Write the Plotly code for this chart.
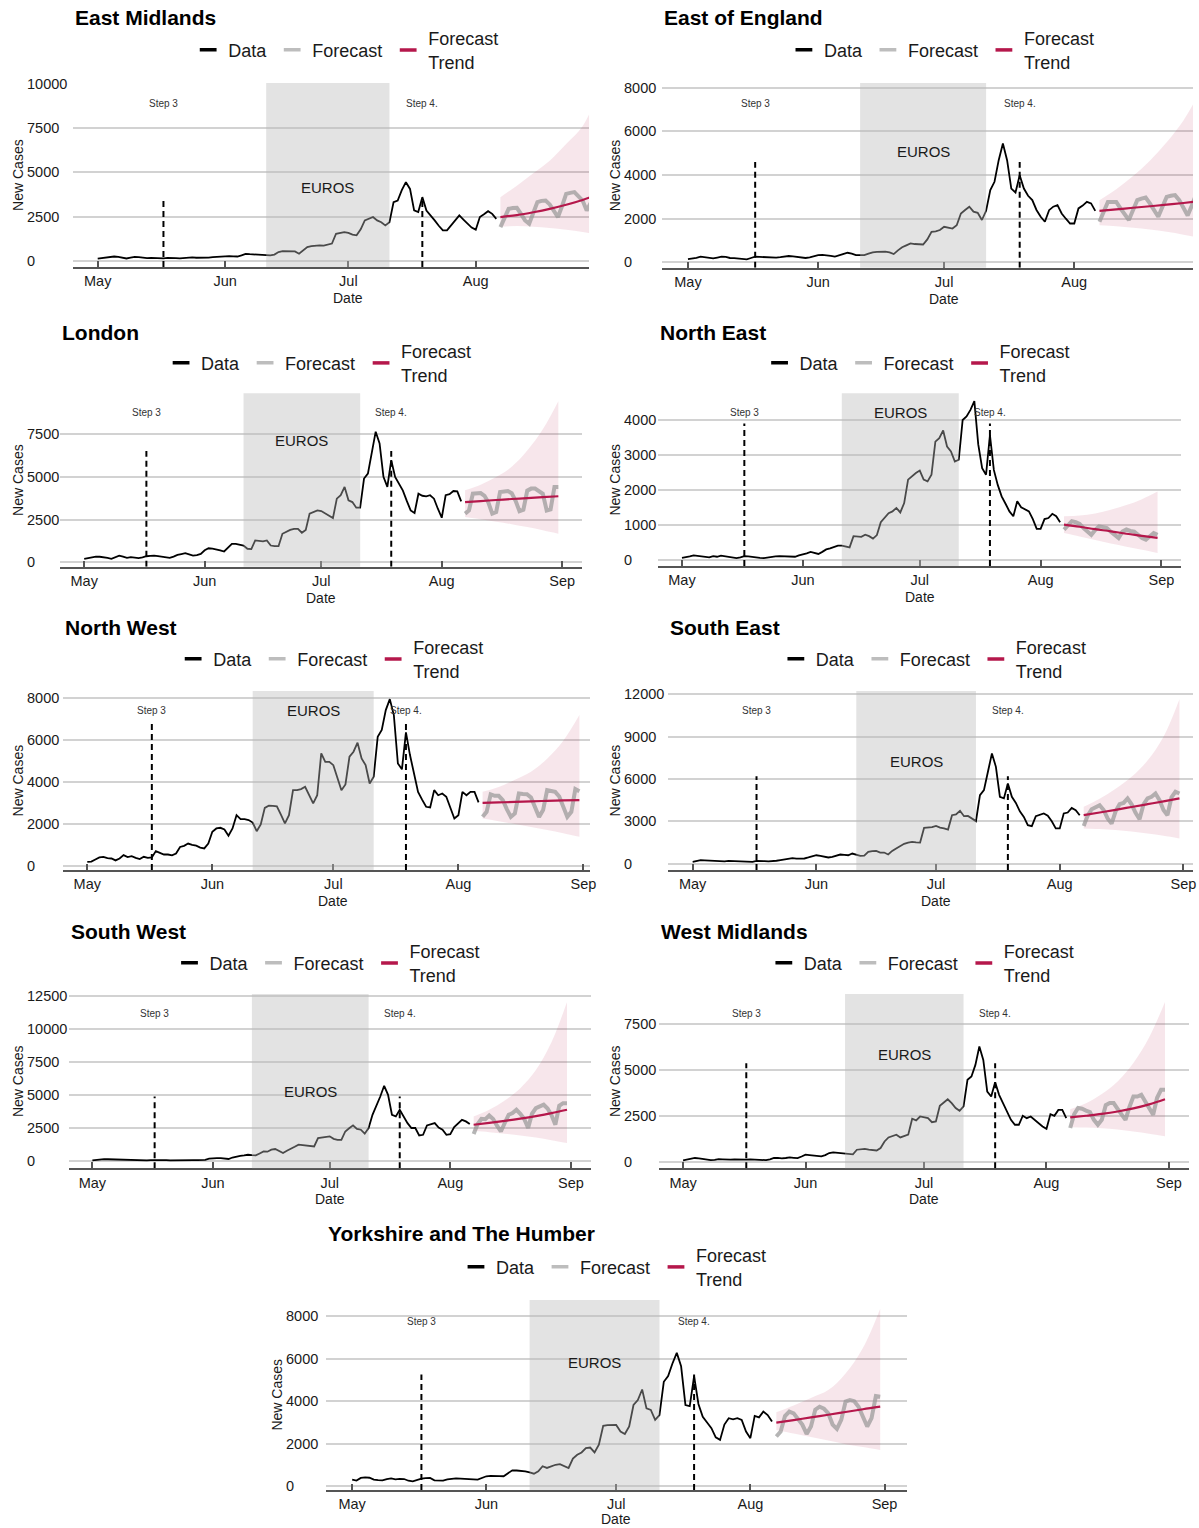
import pandas as pd
import plotly.graph_objects as go

W, H = 1199, 1528
FONT = "Liberation Sans, Arial, sans-serif"
TEXT = "#1a1a1a"
AXIS_COLOR = "#555555"
GRID = "#d2d2d2"
FC_COLOR = "rgba(150,150,150,0.7)"
FC_KEY = "#bdbdbd"
TREND_COLOR = "#b5174b"
RIBBON = "rgba(183,28,74,0.11)"
EUROS_FILL = "rgba(185,185,185,0.4)"

START = pd.Timestamp("2021-05-01")
STEP3_DATE = pd.Timestamp("2021-05-17")
STEP4_DATE = pd.Timestamp("2021-07-19")
EUROS_START = pd.Timestamp("2021-06-11")
EUROS_END = pd.Timestamp("2021-07-11")

MONTH_TICKS = ["2021-05-01", "2021-06-01", "2021-07-01", "2021-08-01", "2021-09-01"]
MONTH_LABELS = ["May", "Jun", "Jul", "Aug", "Sep"]

# ---- daily new cases, 1 May - 6 Aug -------------------------------------
em_cases = [150, 190, 230, 260, 270, 250, 190, 160, 210, 250,
            230, 190, 180, 190, 170, 160, 170, 190, 200, 180,
            170, 190, 210, 220, 200, 190, 200, 210, 240, 260,
            270, 280, 290, 280, 270, 330, 420, 400, 390, 380,
            350, 340, 330, 380, 520, 570, 580, 560, 560, 430,
            620, 800, 850, 880, 900, 880, 950, 1000, 1550, 1580,
            1640, 1600, 1500, 1460, 1800, 2300, 2400, 2490, 2300, 2200,
            2020, 2200, 3330, 3420, 4000, 4450, 4070, 2860, 2770, 3610,
            2860, 2600, 2300, 2000, 1740, 1740, 2000, 2300, 2580, 2350,
            2110, 1900, 1780, 2490, 2650, 2820, 2670, 2390]
ee_cases = [150, 170, 210, 260, 240, 200, 180, 220, 260, 250,
            200, 190, 170, 150, 140, 200, 260, 250, 240, 260,
            230, 220, 240, 270, 290, 270, 240, 220, 200, 230,
            280, 330, 340, 330, 300, 260, 320, 380, 440, 400,
            335, 330, 330, 400, 460, 480, 490, 490, 460, 380,
            550, 690, 780, 870, 840, 830, 820, 1050, 1400, 1420,
            1480, 1630, 1590, 1550, 1700, 2240, 2400, 2550, 2320, 2270,
            1940, 2360, 3310, 3690, 4680, 5440, 4680, 3380, 3200, 3990,
            3380, 3050, 2850, 2400, 2090, 1860, 2390, 2550, 2620, 2240,
            2000, 1780, 1780, 2470, 2600, 2770, 2700, 2360]
ld_cases = [200, 250, 300, 330, 320, 300, 250, 200, 300, 390,
            330, 260, 300, 280, 240, 280, 350, 370, 390, 360,
            330, 290, 260, 330, 430, 480, 530, 460, 390, 420,
            490, 700, 820, 800, 770, 700, 630, 850, 1080, 1080,
            1040, 980, 790, 770, 1280, 1250, 1220, 1280, 980, 940,
            940, 1670, 1800, 1900, 1960, 1960, 1730, 1900, 2850, 2950,
            3040, 3000, 2850, 2700, 2590, 3730, 3930, 4420, 3630, 3530,
            3200, 3200, 4910, 5200, 6380, 7660, 6970, 5010, 4420, 5990,
            5010, 4610, 4200, 3600, 3040, 2890, 4020, 3900, 3870, 3930,
            3730, 3140, 2610, 3930, 3990, 4180, 4160, 3570]
ne_cases = [50, 60, 90, 120, 100, 80, 70, 60, 100, 80,
            110, 90, 70, 60, 40, 60, 100, 90, 70, 60,
            50, 40, 60, 90, 90, 100, 100, 90, 80, 80,
            120, 140, 180, 220, 190, 160, 220, 290, 320, 360,
            400, 400, 380, 350, 670, 660, 650, 710, 670, 600,
            700, 1070, 1190, 1330, 1380, 1480, 1350, 1620, 2290, 2400,
            2480, 2550, 2290, 2240, 2430, 3380, 3480, 3700, 3240, 3100,
            2810, 2860, 4000, 4100, 4290, 4540, 3300, 2620, 2430, 3570,
            2570, 2140, 1810, 1600, 1380, 1240, 1670, 1500, 1450, 1380,
            1160, 880, 880, 1160, 1190, 1310, 1240, 1070]
nw_cases = [190, 200, 300, 400, 430, 370, 350, 260, 350, 510,
            420, 460, 380, 320, 430, 380, 400, 700, 620, 540,
            540, 500, 590, 900, 950, 1060, 1000, 960, 870, 830,
            1060, 1620, 1780, 1810, 1730, 1430, 1780, 2410, 2220, 2220,
            2180, 2060, 1650, 1970, 2760, 2860, 2850, 2830, 2440, 2020,
            2410, 3600, 3600, 3650, 3760, 3360, 2970, 3360, 5350, 4950,
            4950, 4790, 4240, 3600, 3870, 5190, 5430, 5860, 5110, 4790,
            3920, 4240, 6140, 6460, 7410, 7930, 7170, 4870, 4590, 6350,
            5270, 4320, 3520, 3150, 2810, 2780, 3600, 3360, 3440, 3290,
            2800, 2250, 2410, 3520, 3360, 3520, 3520, 3020]
se_cases = [120, 180, 240, 230, 210, 190, 180, 120, 150, 190,
            180, 160, 170, 160, 140, 120, 190, 160, 170, 160,
            170, 200, 250, 310, 350, 380, 350, 330, 360, 430,
            500, 590, 550, 500, 430, 480, 560, 640, 620, 590,
            710, 650, 540, 560, 830, 880, 900, 780, 780, 640,
            900, 1070, 1250, 1400, 1490, 1540, 1500, 1490, 2530, 2550,
            2580, 2670, 2550, 2490, 2410, 3430, 3480, 3740, 3360, 3380,
            3200, 3010, 4850, 5210, 6510, 7810, 6860, 4730, 4620, 5680,
            4730, 4300, 3700, 3310, 2720, 2650, 3360, 3450, 3550, 3400,
            3000, 2490, 2490, 3550, 3620, 3950, 3790, 3430]
sw_cases = [75, 120, 180, 170, 160, 150, 130, 100, 90, 110,
            125, 110, 100, 90, 80, 90, 100, 110, 100, 90,
            80, 90, 100, 110, 120, 110, 100, 90, 100, 120,
            200, 250, 250, 250, 240, 180, 290, 380, 420, 450,
            500, 470, 450, 600, 750, 730, 880, 930, 800, 630,
            800, 930, 1100, 1260, 1230, 1210, 1130, 1130, 1760, 1810,
            1850, 1890, 1700, 1630, 1630, 2260, 2500, 2720, 2460, 2390,
            2090, 2520, 3520, 4150, 4900, 5710, 5030, 3520, 3400, 3900,
            3400, 2890, 2520, 2520, 1960, 2010, 2720, 2800, 2890, 2560,
            2400, 2010, 2060, 2600, 2890, 3140, 3020, 2820]
wm_cases = [90, 130, 180, 220, 200, 170, 140, 100, 120, 160,
            150, 130, 130, 140, 130, 120, 130, 150, 140, 130,
            110, 100, 150, 220, 230, 200, 220, 250, 230, 210,
            300, 400, 380, 360, 330, 310, 380, 490, 530, 510,
            470, 450, 430, 420, 670, 700, 720, 670, 650, 630,
            760, 1120, 1340, 1420, 1490, 1340, 1420, 1490, 2360, 2270,
            2480, 2430, 2390, 2170, 2210, 3060, 3250, 3420, 3210, 2940,
            2790, 3030, 4480, 4660, 5290, 6290, 5560, 3840, 3570, 4350,
            3660, 3210, 2750, 2300, 2030, 2030, 2520, 2390, 2480, 2300,
            2100, 1940, 1810, 2610, 2520, 2840, 2840, 2390]
yh_cases = [310, 265, 390, 420, 400, 310, 290, 280, 340, 370,
            320, 350, 340, 260, 230, 300, 360, 380, 390, 280,
            270, 265, 320, 360, 370, 360, 340, 310, 320, 310,
            400, 470, 490, 500, 480, 470, 600, 750, 740, 730,
            700, 650, 590, 700, 940, 860, 950, 1010, 1040, 950,
            860, 1300, 1480, 1590, 1790, 1820, 1590, 1950, 2840, 2870,
            2880, 2880, 2570, 2460, 2810, 3820, 4050, 4550, 3660, 3590,
            3120, 3350, 4910, 5180, 5770, 6270, 5640, 3820, 3770, 5180,
            3870, 3270, 3000, 2730, 2300, 2180, 2900, 3200, 3150, 3200,
            3120, 2570, 2260, 3310, 3240, 3510, 3350, 3040]

# ---- daily forecast, 7 Aug - 31 Aug --------------------------------------
em_forecast = [1925, 2450, 2950, 3000, 3010, 2670, 2300, 2110, 2700, 3330, 3400, 3420, 3200,
               2800, 2490, 3100, 3790, 3850, 3890, 3650, 3420, 2860, 3300, 4000, 4100]
ee_forecast = [1860, 2300, 2770, 2770, 2770, 2470, 2200, 1940, 2400, 2850, 2920, 2970, 2700,
               2400, 2090, 2550, 3000, 3050, 3080, 2850, 2500, 2150, 2600, 3100, 3150]
ld_forecast = [2850, 3040, 4020, 4060, 4060, 3900, 3500, 2850, 2940, 4120, 4180, 4180, 4050,
               3600, 3000, 3080, 4200, 4320, 4320, 4200, 4020, 3040, 3100, 4420, 4420]
ne_forecast = [860, 1000, 1100, 1070, 1020, 900, 800, 710, 850, 950, 930, 900, 800,
               700, 620, 800, 860, 820, 800, 710, 620, 570, 680, 760, 710]
nw_forecast = [2330, 2570, 3400, 3330, 3330, 3130, 2700, 2330, 2490, 3440, 3420, 3410, 3250,
               2800, 2330, 2650, 3600, 3560, 3520, 3300, 2800, 2330, 2570, 3650, 3550]
se_forecast = [2670, 3400, 3850, 4000, 4140, 3800, 3200, 2840, 3700, 4210, 4300, 4620, 4200,
               3600, 3150, 4200, 4620, 4730, 4970, 4500, 3800, 3430, 4700, 5090, 4970]
sw_forecast = [2060, 2800, 3220, 3190, 3470, 3200, 2700, 2260, 2900, 3520, 3650, 3900, 3600,
               3200, 2520, 3600, 4020, 4150, 4280, 4000, 3500, 2770, 4200, 4400, 4400]
wm_forecast = [1850, 2600, 2940, 2900, 2800, 2720, 2300, 2030, 2300, 3100, 3210, 3210, 2900,
               2600, 2300, 3000, 3570, 3570, 3660, 3300, 2900, 2570, 3500, 3930, 3930]
yh_forecast = [2340, 2570, 3300, 3510, 3430, 3200, 2900, 2460, 2810, 3600, 3740, 3650, 3430,
               2900, 2700, 3120, 3980, 4050, 4000, 3740, 3300, 2810, 3200, 4240, 4210]

# ---- trend and interval, every 4th forecast day (7 Aug ... 31 Aug) -------
em_trend = [2490, 2600, 2760, 2950, 3180, 3450, 3780]
em_lower = [1950, 1980, 1950, 1880, 1780, 1650, 1500]
em_upper = [3610, 4250, 4950, 5660, 6600, 7600, 9560]
ee_trend = [2360, 2430, 2500, 2570, 2640, 2720, 2800]
ee_lower = [1700, 1650, 1580, 1500, 1400, 1270, 1120]
ee_upper = [2850, 3350, 3950, 4650, 5500, 6500, 7830]
ld_trend = [3530, 3590, 3650, 3710, 3760, 3820, 3870]
ld_lower = [2650, 2520, 2380, 2230, 2060, 1870, 1670]
ld_upper = [4220, 4550, 5000, 5600, 6550, 7800, 9450]
ne_trend = [1000, 940, 870, 810, 740, 680, 620]
ne_lower = [760, 660, 560, 460, 370, 280, 190]
ne_upper = [1240, 1260, 1320, 1430, 1560, 1730, 1950]
nw_trend = [3000, 3020, 3040, 3070, 3090, 3110, 3130]
nw_lower = [2250, 2120, 1990, 1850, 1700, 1550, 1380]
nw_upper = [3520, 3750, 4100, 4480, 5100, 5950, 7170]
se_trend = [3430, 3620, 3810, 4010, 4210, 4410, 4620]
se_lower = [2490, 2450, 2380, 2270, 2130, 1970, 1780]
se_upper = [4020, 4600, 5300, 6150, 7300, 9000, 11660]
sw_trend = [2770, 2910, 3060, 3230, 3420, 3640, 3900]
sw_lower = [2310, 2210, 2090, 1950, 1800, 1600, 1380]
sw_upper = [3400, 3900, 4600, 5530, 6900, 9000, 12050]
wm_trend = [2430, 2520, 2620, 2750, 2920, 3140, 3420]
wm_lower = [1900, 1880, 1840, 1770, 1660, 1540, 1400]
wm_upper = [2880, 3200, 3700, 4390, 5400, 6800, 8720]
yh_trend = [2990, 3110, 3240, 3360, 3490, 3620, 3740]
yh_lower = [2650, 2480, 2310, 2150, 1980, 1840, 1710]
yh_upper = [3480, 3800, 4150, 4520, 5300, 6500, 8350]

region_names = ["East Midlands", "East of England", "London", "North East", "North West",
                "South East", "South West", "West Midlands", "Yorkshire and The Humber"]
region_cases = [em_cases, ee_cases, ld_cases, ne_cases, nw_cases, se_cases, sw_cases, wm_cases, yh_cases]
region_forecast = [em_forecast, ee_forecast, ld_forecast, ne_forecast, nw_forecast,
                   se_forecast, sw_forecast, wm_forecast, yh_forecast]
region_trend = [em_trend, ee_trend, ld_trend, ne_trend, nw_trend, se_trend, sw_trend, wm_trend, yh_trend]
region_lower = [em_lower, ee_lower, ld_lower, ne_lower, nw_lower, se_lower, sw_lower, wm_lower, yh_lower]
region_upper = [em_upper, ee_upper, ld_upper, ne_upper, nw_upper, se_upper, sw_upper, wm_upper, yh_upper]
step_line_top = [3420, 4600, 6520, 3900, 6780, 6200, 4900, 5380, 5250]
y_ticks = [[0, 2500, 5000, 7500, 10000], [0, 2000, 4000, 6000, 8000], [0, 2500, 5000, 7500],
           [0, 1000, 2000, 3000, 4000], [0, 2000, 4000, 6000, 8000], [0, 3000, 6000, 9000, 12000],
           [0, 2500, 5000, 7500, 10000, 12500], [0, 2500, 5000, 7500], [0, 2000, 4000, 6000, 8000]]

# Panel boxes in pixels:
# plot left, px per day, plot top, plot bottom, right clip, cell left, title y, legend y
PANELS = [
    (73.0, 4.13, 83.0, 267.0, 592, 0, 17, 50),
    (665.7, 4.22, 83.0, 267.7, 1199, 600, 17, 50),
    (60.8, 3.906, 393.3, 566.7, None, 0, 333, 363),
    (661.5, 3.918, 393.3, 566.0, None, 600, 333, 363),
    (63.0, 4.054, 691.0, 870.0, 593, 0, 628, 659),
    (671.7, 4.01, 691.0, 870.0, 1199, 600, 628, 659),
    (69.0, 3.91, 994.0, 1168.3, None, 0, 932, 963),
    (662.3, 3.97, 994.0, 1168.3, None, 600, 932, 963),
    (327.4, 4.35, 1300.0, 1490.0, None, 260, 1233, 1267),
]
LEGEND_SPLIT = 40  # px right of the panel centre where the trend key starts

obs_dates = pd.date_range(START, periods=len(em_cases), freq="D")
fc_dates = pd.date_range(obs_dates[-1] + pd.Timedelta(days=1), periods=len(em_forecast), freq="D")
band_dates = fc_dates[::4]
span_days = (fc_dates[-1] - START).days
x_pad = 0.05 * span_days


def px_x(x):
    return x / W


def px_y(y):
    return 1 - y / H


def day_str(d):
    return (START + pd.Timedelta(days=d)).strftime("%Y-%m-%d %H:%M:%S")


def legend_key(label, color, legend_id, xa, ya):
    return go.Scatter(x=[None], y=[None], mode="markers", name=label, legend=legend_id,
                      xaxis=xa, yaxis=ya, showlegend=True, hoverinfo="skip",
                      marker=dict(symbol="line-ew", size=12, color=color,
                                  line=dict(color=color, width=3.5)))


fig = go.Figure()
layout = {}
annotations = []
shapes = []

for i, name in enumerate(region_names):
    cases = region_cases[i]
    fc = region_forecast[i]
    trend = region_trend[i]
    lower = region_lower[i]
    upper = region_upper[i]
    left, kday, top, bottom, clip, cell, title_y, legend_y = PANELS[i]
    n = "" if i == 0 else str(i + 1)
    xa, ya = "x" + n, "y" + n
    lg_main = "legend" if i == 0 else "legend" + str(2 * i + 1)
    lg_trend = "legend" + str(2 * i + 2)

    full_right = left + (span_days + 2 * x_pad) * kday
    right = min(full_right, clip) if clip else full_right
    x_lo = -x_pad
    x_hi = -x_pad + (right - left) / kday

    vmax = max(max(cases), max(fc), max(upper))
    vmin = min(min(cases), min(fc), min(lower))
    y_lo = vmin - 0.05 * (vmax - vmin)
    y_hi = vmax + 0.05 * (vmax - vmin)

    common = dict(xaxis=xa, yaxis=ya, showlegend=False, hoverinfo="skip")
    fig.add_trace(go.Scatter(x=band_dates, y=lower, mode="lines",
                             line=dict(width=0, shape="spline"), **common))
    fig.add_trace(go.Scatter(x=band_dates, y=upper, mode="lines", fill="tonexty", fillcolor=RIBBON,
                             line=dict(width=0, shape="spline"), **common))
    fig.add_trace(go.Scatter(x=fc_dates, y=fc, mode="lines",
                             line=dict(color=FC_COLOR, width=4), **common))
    fig.add_trace(go.Scatter(x=band_dates, y=trend, mode="lines",
                             line=dict(color=TREND_COLOR, width=2.2, shape="spline"), **common))
    fig.add_trace(go.Scatter(x=obs_dates, y=cases, mode="lines",
                             line=dict(color="black", width=1.8), **common))

    # legend keys: single-line entries and the two-line trend entry sit side by side
    fig.add_trace(legend_key("Data", "black", lg_main, xa, ya))
    fig.add_trace(legend_key("Forecast", FC_KEY, lg_main, xa, ya))
    fig.add_trace(legend_key("Forecast<br>Trend", TREND_COLOR, lg_trend, xa, ya))

    centre = (left + full_right) / 2
    legend_style = dict(orientation="h", y=px_y(legend_y), yanchor="middle",
                        bgcolor="rgba(0,0,0,0)", itemwidth=30, traceorder="normal",
                        font=dict(size=18, color=TEXT, family=FONT),
                        itemclick=False, itemdoubleclick=False)
    layout[lg_main] = dict(x=px_x(centre + LEGEND_SPLIT), xanchor="right", **legend_style)
    layout[lg_trend] = dict(x=px_x(centre + LEGEND_SPLIT), xanchor="left", **legend_style)

    layout["xaxis" + n] = dict(domain=[px_x(left), px_x(right)], anchor=ya, type="date",
                               range=[day_str(x_lo), day_str(x_hi)],
                               tickvals=MONTH_TICKS, ticktext=MONTH_LABELS,
                               showgrid=False, zeroline=False, showline=True,
                               linecolor=AXIS_COLOR, linewidth=2, ticks="inside", ticklen=6,
                               tickwidth=1.5, tickcolor=AXIS_COLOR, ticklabelstandoff=0,
                               tickfont=dict(size=14.5, color=TEXT, family=FONT), fixedrange=True)
    layout["yaxis" + n] = dict(domain=[px_y(bottom), px_y(top)], anchor=xa, range=[y_lo, y_hi],
                               tickvals=y_ticks[i], showticklabels=False, showgrid=True,
                               gridcolor=GRID, gridwidth=1.5, zeroline=False, showline=False,
                               ticks="", fixedrange=True)

    # EUROS window and roadmap steps
    shapes.append(dict(type="rect", xref=xa, yref=ya + " domain", x0=EUROS_START, x1=EUROS_END,
                       y0=0, y1=1, fillcolor=EUROS_FILL, line=dict(width=0), layer="above"))
    for step_date in (STEP3_DATE, STEP4_DATE):
        shapes.append(dict(type="line", xref=xa, yref=ya, x0=step_date, x1=step_date,
                           y0=y_lo, y1=step_line_top[i], layer="above",
                           line=dict(color="black", width=2, dash="6px,4px")))

    euros_mid = EUROS_START + (EUROS_END - EUROS_START) / 2
    annotations.append(dict(x=euros_mid, y=0.93 * max(cases), xref=xa, yref=ya, text="EUROS",
                            showarrow=False, font=dict(size=15, color=TEXT, family=FONT)))
    for step_date, label in ((STEP3_DATE, "Step 3"), (STEP4_DATE, "Step 4.")):
        annotations.append(dict(x=step_date, y=0.93 * vmax, xref=xa, yref=ya, text=label,
                                showarrow=False, font=dict(size=10, color="#333333", family=FONT)))

    for t in y_ticks[i]:
        annotations.append(dict(x=px_x(cell + 25), xref="paper", xanchor="left", y=t, yref=ya,
                                yanchor="middle", text=str(t), showarrow=False,
                                font=dict(size=14.5, color=TEXT, family=FONT)))

    annotations.append(dict(x=px_x(left), xref="paper", xanchor="left", y=px_y(title_y),
                            yref="paper", yanchor="middle", text="<b>" + name + "</b>",
                            showarrow=False, font=dict(size=21, color="black", family=FONT)))
    date_y = min(bottom + 31, H - 9)
    annotations.append(dict(x=px_x(centre), xref="paper", xanchor="center", y=px_y(date_y),
                            yref="paper", yanchor="middle", text="Date", showarrow=False,
                            font=dict(size=14, color=TEXT, family=FONT)))
    annotations.append(dict(x=px_x(cell + 18), xref="paper", xanchor="center",
                            y=px_y((top + bottom) / 2), yref="paper", yanchor="middle",
                            text="New Cases", textangle=-90, showarrow=False,
                            font=dict(size=14, color=TEXT, family=FONT)))

fig.update_layout(
    width=W, height=H, autosize=False,
    margin=dict(l=0, r=0, t=0, b=0, pad=0),
    paper_bgcolor="white", plot_bgcolor="white",
    font=dict(family=FONT, color=TEXT),
    annotations=annotations, shapes=shapes,
    **layout,
)

fig.write_html("out.html")
